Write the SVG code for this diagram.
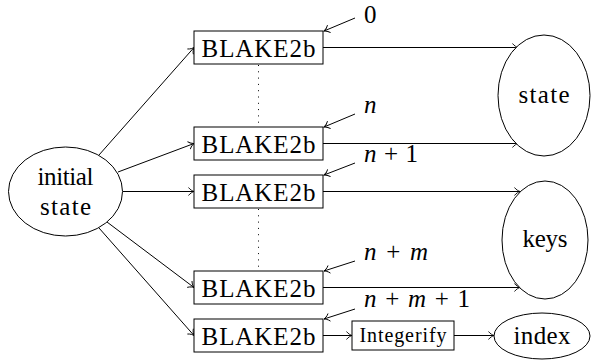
<svg xmlns="http://www.w3.org/2000/svg" width="592" height="360" viewBox="0 0 592 360">
  <defs>
    <marker id="to" viewBox="-7 -5 9 10" refX="0" refY="0" markerWidth="9" markerHeight="10" markerUnits="userSpaceOnUse" orient="auto">
      <path d="M-5.5,-4 C-3.8,-1.6 -1.2,-0.4 0,0 C-1.2,0.4 -3.8,1.6 -5.5,4" fill="none" stroke="#000" stroke-width="0.9"/>
    </marker>
    <style>
      .box { fill: #fff; stroke: #000; stroke-width: 1; }
      .ell { fill: #fff; stroke: #000; stroke-width: 1; }
      .lbl { font-family: 'Liberation Serif', 'Times New Roman', serif; font-size: 25px; fill: #000; }
      .small { font-size: 20px; }
      .edge { fill: none; stroke: #000; stroke-width: 1; marker-end: url(#to); }
      .dots { fill: none; stroke: #000; stroke-width: 1; stroke-dasharray: 1 5.3; }
      .it { font-style: italic; }
    </style>
  </defs>

  <!-- connectors -->
  <g id="connectors">
    <!-- from the initial state to each hash call -->
    <line class="edge" x1="99" y1="155" x2="194" y2="47.5"/>
    <line class="edge" x1="118" y1="172" x2="194" y2="143.5"/>
    <line class="edge" x1="123" y1="191.5" x2="194" y2="191.5"/>
    <line class="edge" x1="107" y1="222" x2="194" y2="287.5"/>
    <line class="edge" x1="99" y1="228" x2="194" y2="335.5"/>
    <!-- outputs -->
    <line class="edge" x1="323" y1="47.5" x2="518" y2="47.5"/>
    <line class="edge" x1="323" y1="143.5" x2="518" y2="143.5"/>
    <line class="edge" x1="323" y1="191.5" x2="520" y2="191.5"/>
    <line class="edge" x1="323" y1="287.5" x2="520" y2="287.5"/>
    <line class="edge" x1="323" y1="335.5" x2="352" y2="335.5"/>
    <line class="edge" x1="454" y1="335.5" x2="494" y2="335.5"/>
    <!-- counter inputs -->
    <line class="edge" x1="355" y1="18" x2="324" y2="31"/>
    <line class="edge" x1="355" y1="114" x2="324" y2="127"/>
    <line class="edge" x1="355" y1="163" x2="324" y2="175"/>
    <line class="edge" x1="355" y1="261" x2="324" y2="271"/>
    <line class="edge" x1="355" y1="309" x2="324" y2="319"/>
    <!-- elided calls -->
    <line class="dots" x1="258.5" y1="65" x2="258.5" y2="127"/>
    <line class="dots" x1="258.5" y1="209" x2="258.5" y2="271"/>
  </g>

  <g id="initial-state">
    <ellipse class="ell" cx="65.5" cy="191.5" rx="57" ry="44.5"/>
    <text class="lbl" x="65.5" y="185" text-anchor="middle" textLength="56">initial</text>
    <text class="lbl" x="65.5" y="215" text-anchor="middle" textLength="51">state</text>
  </g>

  <g id="blake-0">
    <rect class="box" x="194" y="31" width="129" height="33"/>
    <text class="lbl" x="258.5" y="56.5" text-anchor="middle" textLength="114">BLAKE2b</text>
  </g>
  <g id="blake-n">
    <rect class="box" x="194" y="127" width="129" height="33"/>
    <text class="lbl" x="258.5" y="152.5" text-anchor="middle" textLength="114">BLAKE2b</text>
  </g>
  <g id="blake-n1">
    <rect class="box" x="194" y="175" width="129" height="33"/>
    <text class="lbl" x="258.5" y="200.5" text-anchor="middle" textLength="114">BLAKE2b</text>
  </g>
  <g id="blake-nm">
    <rect class="box" x="194" y="271" width="129" height="33"/>
    <text class="lbl" x="258.5" y="296.5" text-anchor="middle" textLength="114">BLAKE2b</text>
  </g>
  <g id="blake-nm1">
    <rect class="box" x="194" y="319" width="129" height="33"/>
    <text class="lbl" x="258.5" y="344.5" text-anchor="middle" textLength="114">BLAKE2b</text>
  </g>

  <g id="integerify">
    <rect class="box" x="352" y="321" width="102" height="29"/>
    <text class="lbl small" x="403" y="342" text-anchor="middle" textLength="87">Integerify</text>
  </g>

  <g id="state">
    <ellipse class="ell" cx="544" cy="95.5" rx="46" ry="60.5"/>
    <text class="lbl" x="544" y="103" text-anchor="middle" textLength="51">state</text>
  </g>
  <g id="keys">
    <ellipse class="ell" cx="545" cy="240" rx="43" ry="59"/>
    <text class="lbl" x="545" y="247" text-anchor="middle" textLength="45">keys</text>
  </g>
  <g id="index">
    <ellipse class="ell" cx="542" cy="336" rx="48" ry="23"/>
    <text class="lbl" x="542" y="344" text-anchor="middle" textLength="57">index</text>
  </g>

  <!-- counter labels -->
  <g id="counter-labels">
    <text class="lbl" x="364" y="22.5">0</text>
    <text class="lbl it" x="364" y="113">n</text>
    <text class="lbl" x="364" y="162" textLength="54"><tspan class="it">n</tspan> + 1</text>
    <text class="lbl" x="364" y="260" textLength="64"><tspan class="it">n</tspan> + <tspan class="it">m</tspan></text>
    <text class="lbl" x="364" y="307" textLength="106"><tspan class="it">n</tspan> + <tspan class="it">m</tspan> + 1</text>
  </g>
</svg>
